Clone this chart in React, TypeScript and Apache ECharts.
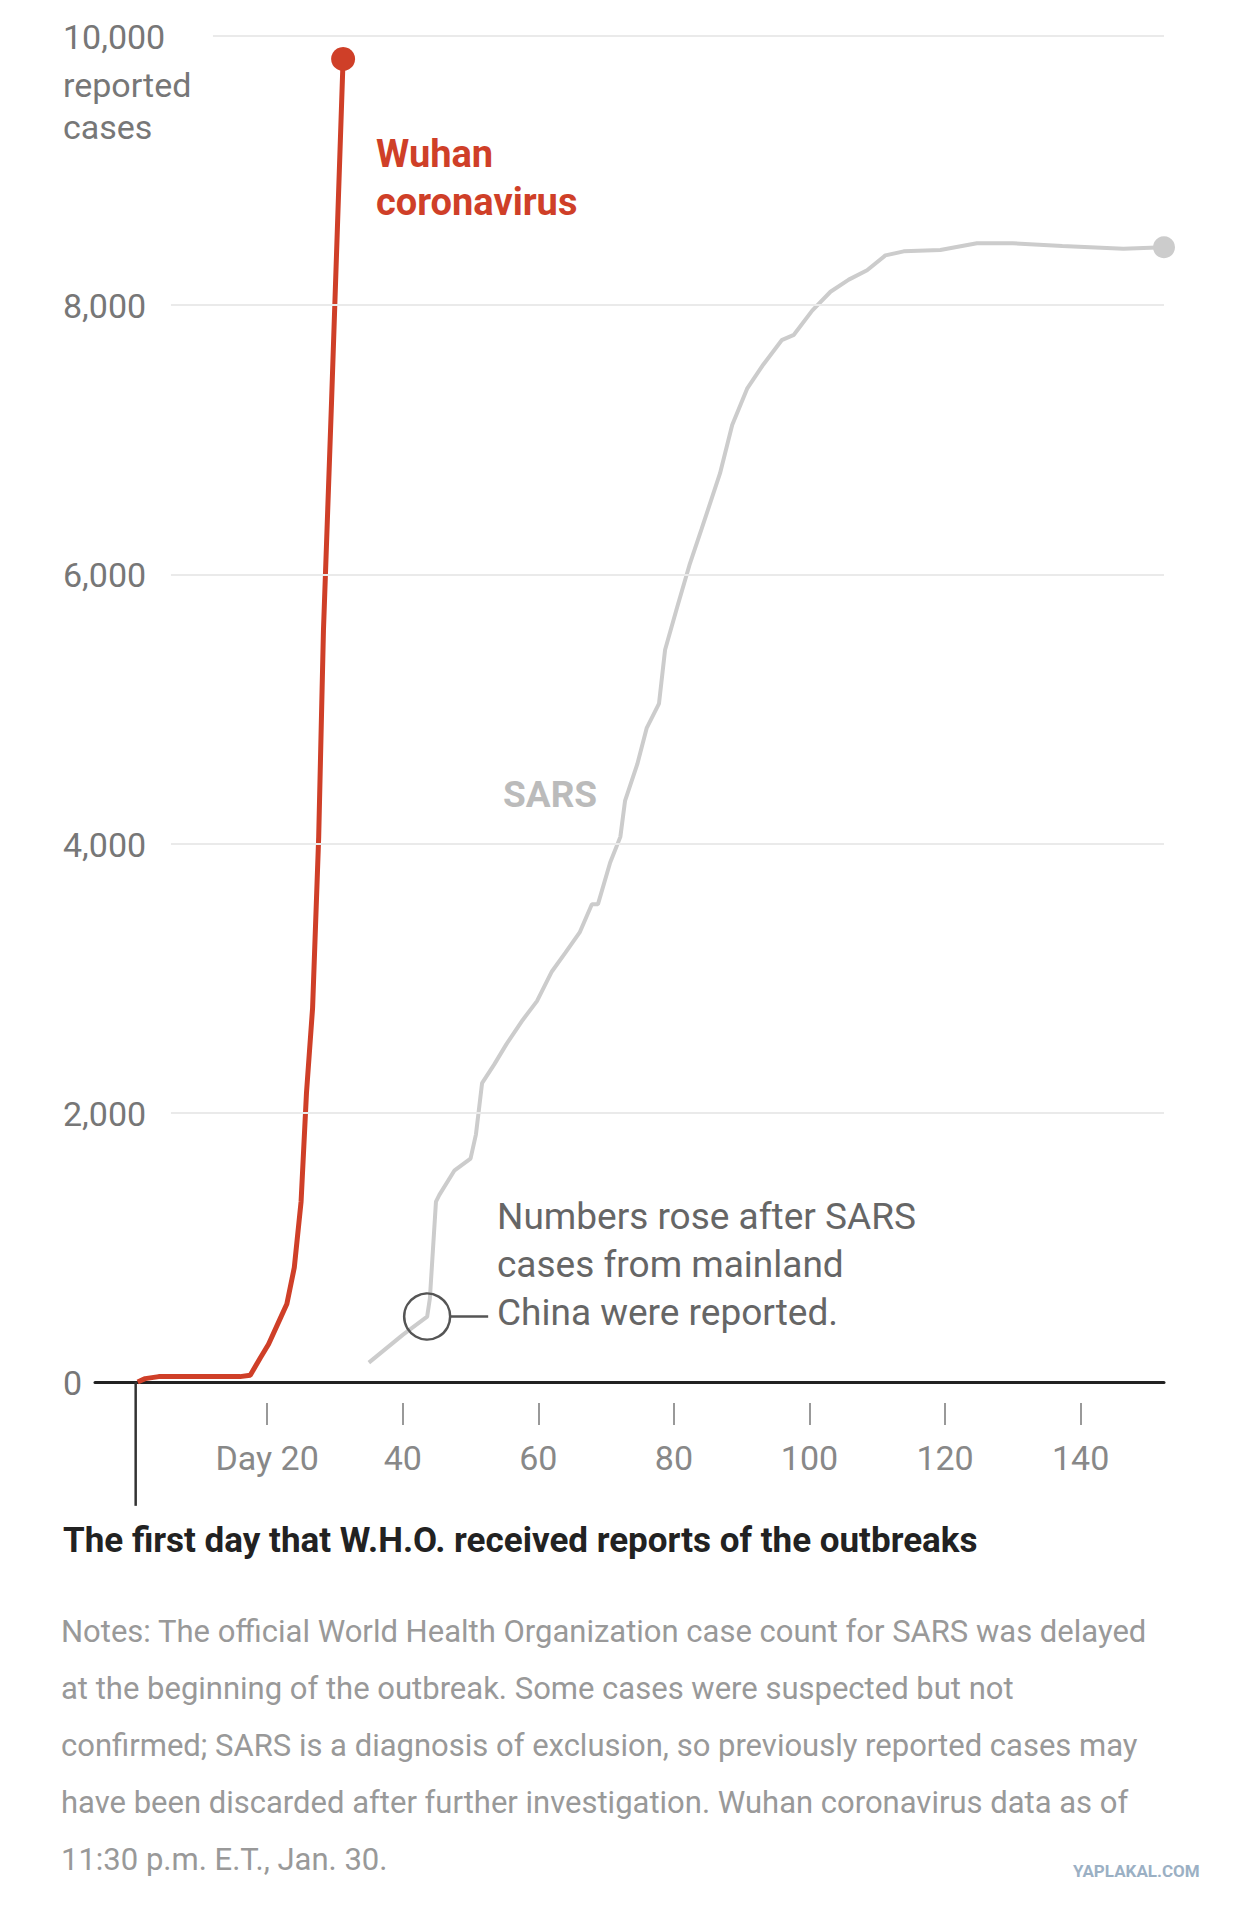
import * as echarts from "echarts";
import { useEffect, useRef } from "react";

// day, reported cases
const wuhanData: [number, number][] = [
	[0.9, 0], [2, 25], [4, 40], [10, 40], [16, 40], [17.5, 50], [19, 180], [20.2, 280],
	[22, 480], [22.9, 580], [24, 850], [25, 1340], [25.8, 2150], [26.7, 2780],
	[27.6, 4050], [28.3, 5580], [29.5, 7290], [31.2, 9830],
];

const sarsData: [number, number][] = [
	[35, 144], [40, 350], [43.6, 486], [44, 620], [44.9, 1340], [45.4, 1390],
	[47.6, 1570], [50, 1660], [50.8, 1840], [51.7, 2220], [53.5, 2360], [55.3, 2510],
	[57.7, 2690], [59.8, 2830], [62, 3050], [64, 3190], [66.1, 3340], [67.9, 3550],
	[68.8, 3550], [70.6, 3860], [72.1, 4050], [72.8, 4320], [74.6, 4590], [76, 4860],
	[77.8, 5040], [78.7, 5440], [80.5, 5760], [82.3, 6070], [84.1, 6340], [86.8, 6750],
	[88.6, 7110], [90.8, 7380], [93.2, 7560], [95.9, 7740], [97.7, 7780], [100.4, 7960],
	[103.1, 8100], [105.8, 8190], [108.5, 8260], [111.2, 8370], [113.9, 8400],
	[119.3, 8410], [124.7, 8460], [130, 8460], [137.3, 8440], [146.3, 8420], [152.3, 8430],
];

// marker for the first day W.H.O. received reports
const firstDayLine: [number, number][] = [[0.6, 0], [0.6, -920]];

const xTicks = [20, 40, 60, 80, 100, 120, 140];
const yTicks = [0, 2000, 4000, 6000, 8000, 10000];
const gridStarts = [5.8, 5.8, 5.8, 5.8, 5.8, 12]; // day where each gridline begins

const notes = [
	"Notes: The official World Health Organization case count for SARS was delayed",
	"at the beginning of the outbreak. Some cases were suspected but not",
	"confirmed; SARS is a diagnosis of exclusion, so previously reported cases may",
	"have been discarded after further investigation. Wuhan coronavirus data as of",
	"11:30 p.m. E.T., Jan. 30.",
];
const annotation = ["Numbers rose after SARS", "cases from mainland", "China were reported."];

const FONT = "Roboto";
const RED = "#cf3f28";
const GRAY = "#cccccc";

export default function App() {
	const chartRef = useRef<HTMLDivElement>(null);

	useEffect(() => {
		document.body.style.margin = "0";
		if (!chartRef.current) return;
		const chart = echarts.init(chartRef.current, null, { renderer: "svg" });

		const gridLines = yTicks.slice(1).map((v, i) => [
			{ coord: [gridStarts[i + 1], v] },
			{ coord: [152.3, v] },
		]);

		chart.setOption({
			animation: false,
			textStyle: { fontFamily: FONT },
			grid: { left: 95, right: 78, top: 36, bottom: 532 },
			xAxis: [
				{
					type: "value", min: -5.4, max: 152.3,
					axisLine: { lineStyle: { color: "#222", width: 3 } },
					axisTick: { show: false }, axisLabel: { show: false }, splitLine: { show: false },
				},
				{
					type: "value", min: -5.4, max: 152.3, position: "bottom", offset: 21,
					axisLine: { show: false }, splitLine: { show: false },
					axisTick: { show: true, customValues: xTicks, length: 22, lineStyle: { color: "#999", width: 2 } },
					axisLabel: {
						customValues: xTicks, margin: 38, color: "#888", fontSize: 34, fontFamily: FONT,
						formatter: (v: number) => (v === 20 ? "Day 20" : String(v)),
					},
				},
			],
			yAxis: {
				type: "value", min: 0, max: 10000, interval: 2000,
				axisLine: { show: false }, axisTick: { show: false }, splitLine: { show: false },
				axisLabel: {
					align: "left", margin: 32, color: "#777", fontSize: 34, fontFamily: FONT,
					verticalAlign: "bottom", padding: [0, 0, -18, 0],
					formatter: (v: number) => v.toLocaleString("en-US"),
				},
			},
			series: [
				{
					type: "line", data: sarsData, showSymbol: false, symbol: "none",
					lineStyle: { color: GRAY, width: 4 }, z: 2, clip: false,
					markLine: {
						silent: true, symbol: "none", label: { show: false },
						lineStyle: { color: "#eaeaea", width: 2, type: "solid" },
						data: gridLines,
					},
				},
				{
					type: "line", data: [sarsData[sarsData.length - 1]], symbol: "circle", symbolSize: 22,
					itemStyle: { color: GRAY }, z: 3, clip: false,
					markPoint: {
						symbol: "circle", symbolSize: 46, label: { show: false },
						itemStyle: { color: "rgba(0,0,0,0)", borderColor: "#555", borderWidth: 2.5 },
						data: [{ coord: sarsData[2] }],
					},
					markLine: {
						silent: true, symbol: "none", label: { show: false },
						lineStyle: { color: "#555", width: 2.5, type: "solid" },
						data: [
							[{ coord: [47.1, sarsData[2][1]] }, { coord: [52.6, sarsData[2][1]] }],
						],
					},
				},
				{
					type: "line", data: firstDayLine, showSymbol: false, symbol: "none",
					lineStyle: { color: "#333", width: 2.5 }, z: 3, clip: false,
				},
				{
					type: "line", data: wuhanData, showSymbol: false, symbol: "none",
					lineStyle: { color: RED, width: 5 }, z: 4, clip: false,
				},
				{
					type: "line", data: [wuhanData[wuhanData.length - 1]], symbol: "circle", symbolSize: 24,
					itemStyle: { color: RED }, z: 5, clip: false,
				},
			],
			graphic: [
				{ type: "text", left: 63, top: 64, style: { text: "reported\ncases", fill: "#777", font: `34px ${FONT}`, lineHeight: 42 } },
				{ type: "text", left: 376, top: 130, style: { text: "Wuhan\ncoronavirus", fill: RED, font: `bold 38px ${FONT}`, lineHeight: 48 } },
				{ type: "text", left: 503, top: 776, style: { text: "SARS", fill: "#bbbbbb", font: `bold 37px ${FONT}` } },
				{ type: "text", left: 497, top: 1192, style: { text: annotation.join("\n"), fill: "#666", font: `37px ${FONT}`, lineHeight: 48 } },
				{ type: "text", left: 63, top: 1523, style: { text: "The first day that W.H.O. received reports of the outbreaks", fill: "#222", font: `bold 35px ${FONT}` } },
				{ type: "text", left: 61, top: 1603, style: { text: notes.join("\n"), fill: "#999", font: `31px ${FONT}`, lineHeight: 57 } },
				{ type: "text", left: 1073, top: 1862, style: { text: "YAPLAKAL.COM", fill: "#9bb0c4", font: `bold 17px ${FONT}` } },
			],
		});

		return () => chart.dispose();
	}, []);

	return <div ref={chartRef} style={{ width: 1242, height: 1914 }} />;
}
